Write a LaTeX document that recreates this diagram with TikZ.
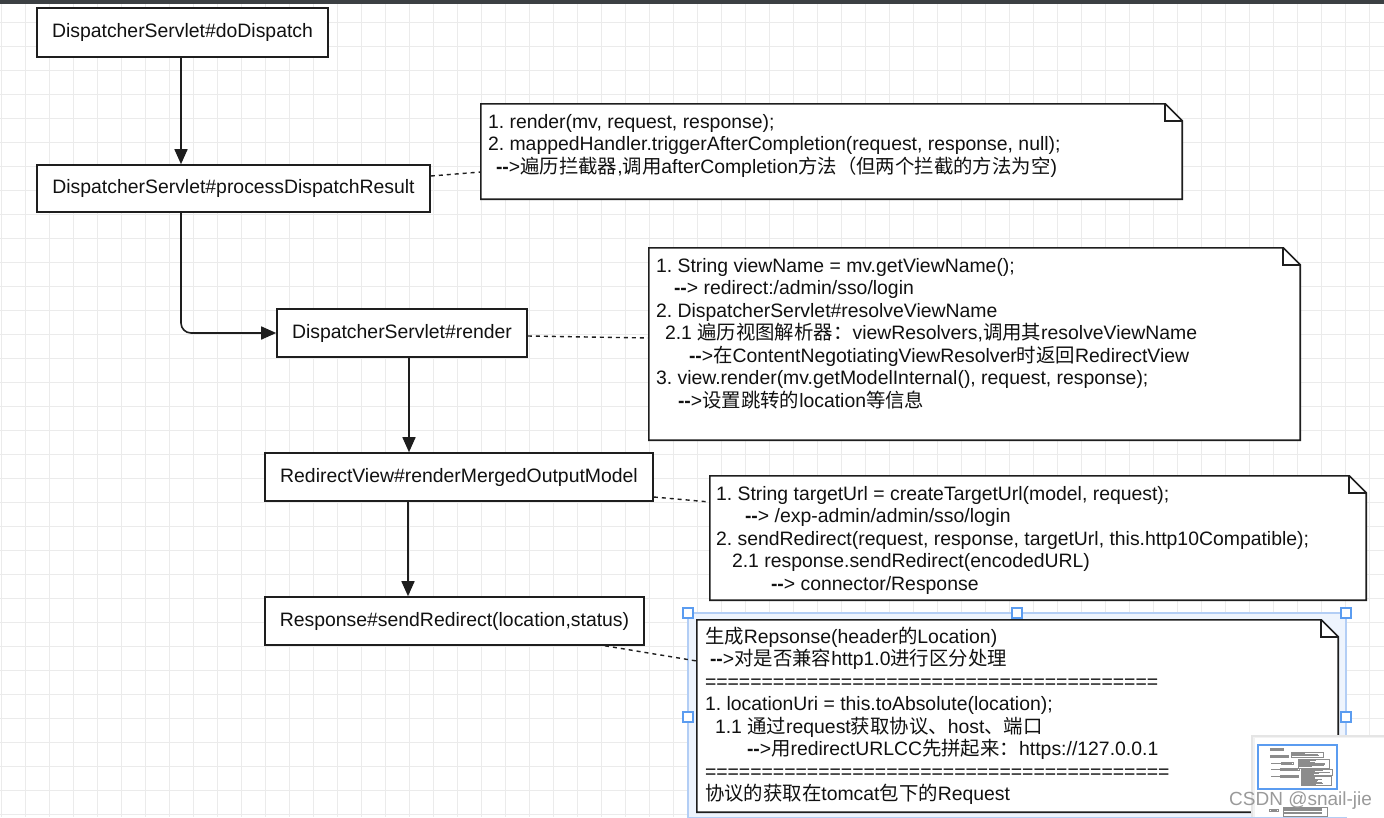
\documentclass[tikz,border=0pt]{standalone}
\usepackage{fontspec}
\setmainfont{Liberation Sans}
\newfontfamily\zhfont{Noto Sans CJK SC}
\newcommand\zh[1]{{\zhfont #1}}
\newcommand\arw{\textbf{-{}-}>}
\usetikzlibrary{arrows.meta,calc}
\definecolor{linec}{HTML}{1E1E1E}
\definecolor{txtc}{HTML}{111111}
\definecolor{gridc}{HTML}{EBEBEB}
\definecolor{topbar}{HTML}{3C4043}
\definecolor{selfill}{HTML}{EEF4FD}
\definecolor{selline}{HTML}{B3CEF5}
\definecolor{handlec}{HTML}{5B9CF0}
\definecolor{wmc}{HTML}{9A9A9A}
\newcommand\mynote[1]{%
  \filldraw[noteshape] (#1.north west) -- ([xshift=-17pt]#1.north east) -- ([yshift=-17pt]#1.north east) -- (#1.south east) -- (#1.south west) -- cycle;
  \draw[noteshape, fill=none] ([xshift=-17pt]#1.north east) -- ([xshift=-17pt,yshift=-17pt]#1.north east) -- ([yshift=-17pt]#1.north east);}
\begin{document}
\frenchspacing
\begin{tikzpicture}[x=1pt,y=-1pt,
  box/.style={draw=linec, line width=1.6pt, fill=white, text=txtc, font=\fontsize{19.4}{22.5}\selectfont, inner sep=0pt, minimum height=48pt},
  notearea/.style={inner sep=0pt, draw=none},
  noteshape/.style={draw=linec, line width=1.6pt, fill=white, line join=miter},
  notetext/.style={anchor=north west, align=left, inner sep=0pt, text=txtc, font=\fontsize{19.4}{22.5}\selectfont\frenchspacing},
  flow/.style={draw=linec, line width=1.6pt, -{Triangle[length=15pt,width=13pt]}},
  link/.style={draw=linec, line width=1.4pt, dash pattern=on 4pt off 4pt},
  gridline/.style={draw=gridc, line width=0.8pt},
  handle/.style={draw=handlec, line width=1.3pt, fill=white},
  mini/.style={draw=black!45, line width=0.4pt, fill=white},
  minitext/.style={draw=black!45, line width=0.5pt},
]
\useasboundingbox (0,0) rectangle (1384,817);
\fill[white] (0,0) rectangle (1384,817);
% grid
\foreach \gx in {1,25,...,1384} \draw[gridline] (\gx,0) -- (\gx,817);
\foreach \gy in {22,46,...,817} \draw[gridline] (0,\gy) -- (1384,\gy);
\fill[topbar] (0,0) rectangle (1384,3.5);

% boxes
\node[box, minimum width=291pt, minimum height=49pt] (A) at (182.5,32.5) {DispatcherServlet\#doDispatch};
\node[box, minimum width=393pt, minimum height=47pt] (B) at (233.5,188.5) {DispatcherServlet\#processDispatchResult};
\node[box, minimum width=250pt] (C) at (402,333) {DispatcherServlet\#render};
\node[box, minimum width=388pt] (D) at (459,477) {RedirectView\#renderMergedOutputModel};
\node[box, minimum width=379pt] (E) at (454.5,621) {Response\#sendRedirect(location,status)};

% flow arrows
\draw[flow] ([xshift=-1.5pt]A.south) -- ([xshift=-1.5pt]A.south |- B.north);
\draw[flow, rounded corners=10pt] ([xshift=-1.5pt]A.south |- B.south) |- (C.west);
\draw[flow] ([xshift=7pt]C.south) -- ([xshift=7pt]C.south |- D.north);
\draw[flow] ([xshift=-51pt]D.south) -- ([xshift=-51pt]D.south |- E.north);

% note 1
\node[notearea, minimum width=701pt, minimum height=95pt] (n1) at (831.5,151.5) {};
\mynote{n1}
\node[notetext] (n1t) at ([xshift=7pt,yshift=-6pt]n1.north west) {\rule{0pt}{18pt}1. render(mv, request, response);\\
2. mappedHandler.triggerAfterCompletion(request, response, null);\\
\hspace*{8pt}\arw\zh{遍历拦截器},\zh{调用}afterCompletion\zh{方法（但两个拦截的方法为空})};

% note 2
\node[notearea, minimum width=651pt, minimum height=192pt] (n2) at (974.5,344) {};
\mynote{n2}
\node[notetext] (n2t) at ([xshift=7pt,yshift=-6pt]n2.north west) {\rule{0pt}{18pt}1. String viewName = mv.getViewName();\\
\hspace*{18pt}\arw{} redirect:/admin/sso/login\\
2. DispatcherServlet\#resolveViewName\\
\hspace*{9pt}2.1 \zh{遍历视图解析器：}viewResolvers,\zh{调用其}resolveViewName\\
\hspace*{33pt}\arw\zh{在}ContentNegotiatingViewResolver\zh{时返回}RedirectView\\
3. view.render(mv.getModelInternal(), request, response);\\
\hspace*{22pt}\arw\zh{设置跳转的}location\zh{等信息}};

% note 3
\node[notearea, minimum width=656pt, minimum height=124pt] (n3) at (1038,538) {};
\mynote{n3}
\node[notetext] (n3t) at ([xshift=6pt,yshift=-6pt]n3.north west) {\rule{0pt}{18pt}1. String targetUrl = createTargetUrl(model, request);\\
\hspace*{29pt}\arw{} /exp-admin/admin/sso/login\\
2. sendRedirect(request, response, targetUrl, this.http10Compatible);\\
\hspace*{16pt}2.1 response.sendRedirect(encodedURL)\\
\hspace*{55pt}\arw{} connector/Response};

% note 4 with selection
\fill[selfill] (688,613) rectangle (1346,817);
\draw[selline, line width=1.5pt] (688,613) rectangle (1346,818);
\node[notearea, minimum width=641pt, minimum height=192pt] (n4) at (1017.5,716) {};
\mynote{n4}
\node[notetext] (n4t) at ([xshift=8pt,yshift=-5pt]n4.north west) {\rule{0pt}{18pt}\zh{生成}Repsonse(header\zh{的}Location)\\
\hspace*{5pt}\arw\zh{对是否兼容}http1.0\zh{进行区分处理}\\
========================================\\
1. locationUri = this.toAbsolute(location);\\
\hspace*{10pt}1.1 \zh{通过}request\zh{获取协议、}host\zh{、端口}\\
\hspace*{42pt}\arw\zh{用}redirectURLCC\zh{先拼起来：}https://127.0.0.1\\
=========================================\\
\zh{协议的获取在}tomcat\zh{包下的}Request};
\foreach \hx/\hy in {688/613,1017/613,1346/613,688/717,1346/717}
  \draw[handle] (\hx-5,\hy-5) rectangle (\hx+5,\hy+5);

% dashed links
\draw[link] ([yshift=12.5pt]B.east) -- ([yshift=-20.5pt]n1.west);
\draw[link] ([yshift=-3pt]C.east) -- ([yshift=6pt]n2.west);
\draw[link] ([yshift=-20pt]D.east) -- ([yshift=36pt]n3.west);
\draw[link] ([xshift=150.5pt]E.south) -- ([yshift=55pt]n4.west);

% minimap
\fill[black!10] (1251,734.5) rectangle (1384,817);
\fill[black!5] (1253,736.5) rectangle (1384,817);
\fill[white] (1255,738) rectangle (1384,817);
\begin{scope}
\clip (1255,738) rectangle (1384,817);
\begin{scope}[shift={(1268.3,747.6)}, xscale=0.0467, yscale=0.046]
  \draw[mini] (37,8) rectangle (328,57);
  \draw[mini] (37,165) rectangle (430,212);
  \draw[mini] (277,309) rectangle (527,357);
  \draw[mini] (265,453) rectangle (653,501);
  \draw[mini] (265,597) rectangle (644,645);
  \draw[mini] (481,104) rectangle (1182,199);
  \draw[mini] (649,248) rectangle (1300,440);
  \draw[mini] (710,476) rectangle (1366,600);
  \draw[mini] (697,620) rectangle (1338,812);
  \foreach \ty/\tl in {121/776,143/1063,166/1075} \draw[minitext] (489,\ty) -- (\tl,\ty);
  \foreach \ty/\tl in {265/1017,287/897,310/1000,332/1207,355/1208,377/1187,400/937} \draw[minitext] (657,\ty) -- (\tl,\ty);
  \foreach \ty/\tl in {493/1172,515/1010,537/1313,560/1093,582/980} \draw[minitext] (717,\ty) -- (\tl,\ty);
  \foreach \ty/\tl in {636/998,659/1010,682/1159,704/1057,727/1045,749/1160,771/1171,794/1012} \draw[minitext] (706,\ty) -- (\tl,\ty);
  \foreach \ty/\tl in {32/313,188/415,333/512,477/638,621/630} \draw[minitext] (60,\ty) -- (\tl,\ty);
  \draw[mini] (20,1330) rectangle (215,1385);
  \draw[mini] (320,1290) rectangle (1270,1500);
  \foreach \ty in {1320,1345,1370,1395,1420} \draw[minitext] (340,\ty) -- (1150,\ty);
  \draw[minitext] (60,1357) -- (190,1357);
\end{scope}
\draw[handlec, line width=1.5pt] (1258,745) rectangle (1337,789);
\end{scope}

% watermark
\node[font=\fontsize{19}{19}\selectfont, text=wmc, anchor=base west, inner sep=0pt] (wm) at (1229,805) {CSDN @snail-jie};
\end{tikzpicture}
\end{document}
